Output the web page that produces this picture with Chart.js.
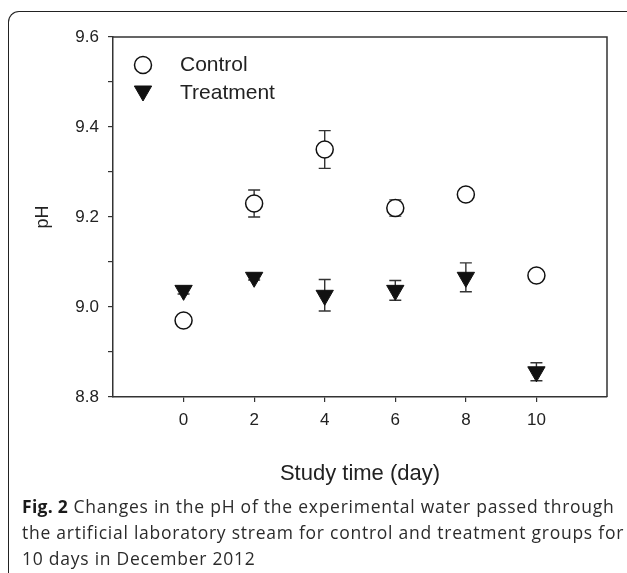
<!DOCTYPE html>
<html>
<head>
<meta charset="utf-8">
<script src="https://cdn.jsdelivr.net/npm/chart.js@4.4.1/dist/chart.umd.min.js"></script>
<style>
  html, body { margin: 0; padding: 0; background: #fff; }
  body { width: 627px; height: 573px; position: relative; overflow: hidden; }
  #frame { position: absolute; left: 8px; top: 11px; width: 640px; height: 600px;
           border-left: 1.6px solid #222; border-top: 1.6px solid #222; border-top-left-radius: 11px; }
  #wrap { position: absolute; left: 0; top: 0; width: 627px; height: 500px; }
  #caption { position: absolute; left: 22px; top: 493px; width: 603px;
             font-family: "Open Sans", sans-serif; font-size: 17.5px; letter-spacing: 0.75px;
             line-height: 26px; color: #2b2b2b; }
  #caption b { color: #1a1a1a; letter-spacing: 0.3px; }
</style>
</head>
<body>
<div id="frame"></div>
<div id="wrap"><canvas id="c" width="627" height="500"></canvas></div>
<div id="caption"><b>Fig. 2</b> Changes in the pH of the experimental water passed through the artificial laboratory stream for control and treatment groups for 10 days in December 2012</div>
<script>
// ---- data ----
const days = [0, 2, 4, 6, 8, 10];
const controlMean = [8.97, 9.23, 9.35, 9.22, 9.25, 9.07];
const controlErr  = [0.005, 0.03, 0.042, 0.018, 0.006, 0.005];
const treatmentMean = [9.037, 9.066, 9.026, 9.037, 9.066, 8.856];
const treatmentErr  = [0.008, 0.006, 0.035, 0.022, 0.032, 0.02];
const seriesLabels = ['Control', 'Treatment'];
const xTickValues = [0, 2, 4, 6, 8, 10];
const xTickLabels = ['0', '2', '4', '6', '8', '10'];
const yTickValues = [8.8, 8.9, 9.0, 9.1, 9.2, 9.3, 9.4, 9.5, 9.6];
const yTickLabels = ['8.8', '', '9.0', '', '9.2', '', '9.4', '', '9.6'];
const xTitle = 'Study time (day)';
const yTitle = 'pH';

const FONT = '"Liberation Sans", Arial, sans-serif';
const INK = '#222';

const errorBars = {
  id: 'errorBars',
  beforeDatasetsDraw(chart) {
    const ctx = chart.ctx, y = chart.scales.y;
    const errs = [controlErr, treatmentErr];
    ctx.save();
    ctx.strokeStyle = '#333';
    ctx.lineWidth = 1.4;
    chart.data.datasets.forEach((ds, di) => {
      const meta = chart.getDatasetMeta(di);
      meta.data.forEach((pt, i) => {
        const v = ds.data[i].y, e = errs[di][i];
        const yt = y.getPixelForValue(v + e), yb = y.getPixelForValue(v - e);
        const x = pt.x, hw = 6;
        ctx.beginPath();
        ctx.moveTo(x, yt); ctx.lineTo(x, yb);
        ctx.moveTo(x - hw, yt); ctx.lineTo(x + hw, yt);
        ctx.moveTo(x - hw, yb); ctx.lineTo(x + hw, yb);
        ctx.stroke();
      });
    });
    ctx.restore();
  }
};

const boxAndLegend = {
  id: 'boxAndLegend',
  afterDraw(chart) {
    const ctx = chart.ctx, a = chart.chartArea;
    ctx.save();
    ctx.strokeStyle = '#333';
    ctx.lineWidth = 1.5;
    ctx.beginPath();
    ctx.moveTo(a.left, a.top); ctx.lineTo(a.right, a.top); ctx.lineTo(a.right, a.bottom);
    ctx.stroke();
    // legend inside plot
    const lx = a.left + 30, ly0 = a.top + 28, dy = 28;
    chart.data.datasets.forEach((ds, i) => {
      const yy = ly0 + i * dy;
      ctx.fillStyle = ds.pointBackgroundColor;
      ctx.strokeStyle = ds.pointBorderColor;
      ctx.lineWidth = ds.pointBorderWidth;
      Chart.helpers.drawPoint(ctx, { pointStyle: ds.pointStyle, rotation: ds.pointRotation || 0, radius: ds.pointRadius, borderWidth: ds.pointBorderWidth }, lx, yy + (i === 1 ? -2 : 0));
      ctx.fillStyle = INK;
      ctx.font = '21px ' + FONT;
      ctx.textBaseline = 'middle';
      ctx.textAlign = 'left';
      ctx.fillText(ds.label, lx + 37, yy);
    });
    ctx.restore();
  }
};

new Chart(document.getElementById('c'), {
  type: 'scatter',
  data: {
    datasets: [
      {
        label: seriesLabels[0],
        data: days.map((d, i) => ({ x: d, y: controlMean[i] })),
        pointStyle: 'circle', pointRadius: 8.5, pointBorderWidth: 1.5,
        pointBackgroundColor: '#fff', pointBorderColor: '#111'
      },
      {
        label: seriesLabels[1],
        data: days.map((d, i) => ({ x: d, y: treatmentMean[i] })),
        pointStyle: 'triangle', pointRotation: 180, pointRadius: 10, pointBorderWidth: 1,
        pointBackgroundColor: '#111', pointBorderColor: '#111'
      }
    ]
  },
  options: {
    responsive: false,
    animation: false,
    events: [],
    layout: { padding: { left: 0, top: 37, right: 20, bottom: 0 } },
    plugins: { legend: { display: false }, tooltip: { enabled: false } },
    scales: {
      x: {
        type: 'linear', min: -2, max: 12,
        afterBuildTicks: s => { s.ticks = xTickValues.map(v => ({ value: v })); },
        afterFit: s => { s.height = 103; },
        grid: { drawOnChartArea: false, drawTicks: true, tickLength: 5, color: '#333', lineWidth: 1.2 },
        border: { display: true, color: '#333', width: 1.5 },
        ticks: { autoSkip: false, maxRotation: 0, padding: 8, color: INK,
                 font: { family: FONT, size: 17 },
                 callback: (v, i) => xTickLabels[i] },
        title: { display: true, text: xTitle, color: INK, font: { family: FONT, size: 22 },
                 padding: { top: 0, bottom: 13 } }
      },
      y: {
        type: 'linear', min: 8.8, max: 9.6,
        afterBuildTicks: s => { s.ticks = yTickValues.map(v => ({ value: v })); },
        afterFit: s => { s.width = 113; },
        grid: { drawOnChartArea: false, drawTicks: true, tickLength: 5, color: '#333', lineWidth: 1.2 },
        border: { display: true, color: '#333', width: 1.5 },
        ticks: { autoSkip: false, padding: 9, color: INK,
                 font: { family: FONT, size: 17 },
                 callback: (v, i) => yTickLabels[i] },
        title: { display: true, text: yTitle, color: INK, font: { family: FONT, size: 18 },
                 padding: { top: 32, bottom: 0 } }
      }
    }
  },
  plugins: [errorBars, boxAndLegend]
});
</script>
</body>
</html>
